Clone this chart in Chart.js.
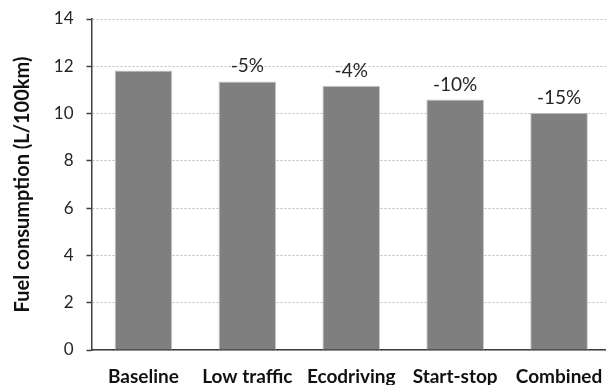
<!DOCTYPE html>
<html>
<head>
<meta charset="utf-8">
<script src="https://cdn.jsdelivr.net/npm/chart.js@4/dist/chart.umd.min.js"></script>
<style>
  html, body { margin: 0; padding: 0; background: #ffffff; overflow: hidden; }
  #wrap { position: relative; width: 612px; height: 400px; }
</style>
</head>
<body>
<div id="wrap"><canvas id="chart" width="612" height="400"></canvas></div>
<script>
// Scenario categories and average fuel consumption (L/100km)
const categories = ['Baseline', 'Low traffic', 'Ecodriving', 'Start-stop', 'Combined'];
const fuelConsumption = [11.82, 11.36, 11.18, 10.59, 10.04];
// Change relative to baseline, printed above each scenario bar
const changeLabels = ['', '-5%', '-4%', '-10%', '-15%'];
const yTicks = [0, 2, 4, 6, 8, 10, 12, 14];

const FONT = 'Lato, "Open Sans", sans-serif';

// Draws the percentage change text above each bar
const changeLabelPlugin = {
  id: 'changeLabels',
  afterDatasetsDraw(chart) {
    const ctx = chart.ctx;
    const meta = chart.getDatasetMeta(0);
    ctx.save();
    ctx.font = '19px ' + FONT;
    ctx.fillStyle = '#262626';
    ctx.textAlign = 'center';
    ctx.textBaseline = 'alphabetic';
    meta.data.forEach((bar, i) => {
      const txt = changeLabels[i];
      if (txt) ctx.fillText(txt, bar.x, bar.y - 9);
    });
    ctx.restore();
  }
};

new Chart(document.getElementById('chart'), {
  type: 'bar',
  data: {
    labels: categories,
    datasets: [{
      data: fuelConsumption,
      backgroundColor: '#7f7f7f',
      borderColor: '#c9c9c9',
      borderWidth: 1,
      barPercentage: 0.555,
      categoryPercentage: 1.0
    }]
  },
  plugins: [changeLabelPlugin],
  options: {
    responsive: false,
    animation: false,
    events: [],
    layout: { padding: { top: 19, right: 1, left: 0, bottom: 0 } },
    plugins: {
      legend: { display: false },
      tooltip: { enabled: false }
    },
    scales: {
      x: {
        grid: { display: false },
        border: { display: true, color: '#404040', width: 1.5 },
        ticks: {
          color: '#111111',
          font: { family: FONT, size: 19, weight: 'bold' },
          padding: 7,
          maxRotation: 0,
          autoSkip: false
        },
        afterFit(scale) { scale.height = 50; }
      },
      y: {
        min: 0,
        max: 14,
        afterBuildTicks(scale) { scale.ticks = yTicks.map(v => ({ value: v })); },
        grid: {
          color: '#bdbdbd',
          lineWidth: 1,
          tickLength: 5,
          tickColor: '#404040',
          tickWidth: 1.5
        },
        border: { display: true, color: '#404040', width: 1.5, dash: [2, 2] },
        ticks: {
          color: '#262626',
          font: { family: FONT, size: 17 },
          padding: 13
        },
        title: {
          display: true,
          text: 'Fuel consumption (L/100km)',
          color: '#111111',
          font: { family: FONT, size: 20, weight: 'bold' },
          padding: { top: 11, bottom: 0 }
        },
        afterFit(scale) {
          scale.width = 91.5;
          // the top tick label fits inside the layout padding already
          scale.paddingTop = 0;
          scale.paddingBottom = 0;
        }
      }
    }
  }
});
</script>
</body>
</html>
